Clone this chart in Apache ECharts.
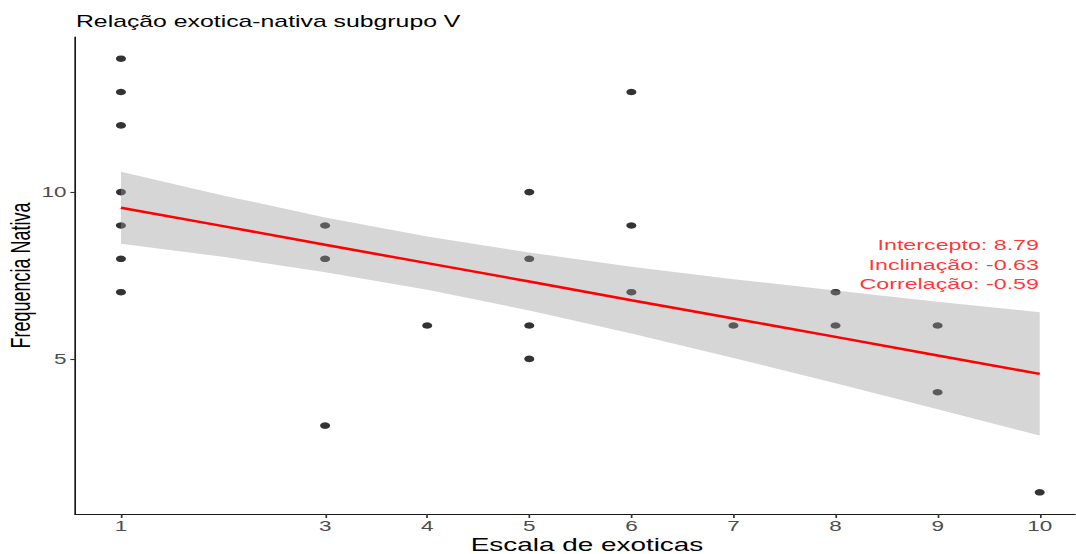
<!DOCTYPE html>
<html>
<head>
<meta charset="utf-8">
<script src="https://cdn.jsdelivr.net/npm/echarts@6/dist/echarts.min.js"></script>
<style>
  html, body { margin: 0; padding: 0; background: #ffffff; overflow: hidden; }
  #chart { width: 694.19px; height: 554px; transform: scaleX(1.55); transform-origin: 0 0; }
</style>
</head>
<body>
<div id="chart"></div>
<script>
// ---- data ----
const chartTitle = 'Relação exotica-nativa subgrupo V';
const xName = 'Escala de exoticas';
const yName = 'Frequencia Nativa';
const pointX = [1, 1, 1, 1, 1, 1, 1, 3, 3, 3, 4, 5, 5, 5, 5, 6, 6, 6, 7, 8, 8, 9, 9, 10];
const pointY = [14, 13, 12, 10, 9, 8, 7, 9, 8, 3, 6, 10, 8, 6, 5, 13, 9, 7, 6, 7, 6, 6, 4, 1];
const fitX = [1, 2, 3, 4, 5, 6, 7, 8, 9, 10];
const fitY = [9.53, 8.98, 8.42, 7.87, 7.32, 6.76, 6.21, 5.66, 5.10, 4.55];
const bandUpper = [10.61, 9.90, 9.24, 8.67, 8.19, 7.76, 7.39, 7.05, 6.71, 6.40];
const bandLower = [8.45, 8.06, 7.60, 7.07, 6.45, 5.76, 5.03, 4.27, 3.49, 2.70];
const xTicks = [1, 3, 4, 5, 6, 7, 8, 9, 10];
const yTicks = [5, 10];
const annoLabels = ['Intercepto: 8.79', 'Inclinação: -0.63', 'Correlação: -0.59'];
const annoX = 10;
const annoY = [8.44, 7.84, 7.25];

// ---- chart ----
const FONT = 'Liberation Sans, Arial, Helvetica, sans-serif';
const chart = echarts.init(document.getElementById('chart'), null, { renderer: 'svg' });

const option = {
  animation: false,
  backgroundColor: '#ffffff',
  title: {
    text: chartTitle,
    left: 49,
    top: 13,
    padding: 0,
    textStyle: { fontFamily: FONT, fontSize: 16, fontWeight: 'normal', color: '#000000' }
  },
  grid: { left: 48.4, right: -15, top: 37, bottom: 40, containLabel: false, outerBoundsMode: 'none' },
  xAxis: {
    type: 'value',
    min: 0.55,
    max: 10.58,
    name: xName,
    nameLocation: 'middle',
    nameGap: 22,
    nameMoveOverlap: false,
    nameTextStyle: { fontFamily: FONT, fontSize: 18, color: '#000000' },
    axisLine: { show: true, onZero: false, lineStyle: { color: '#1a1a1a', width: 1.1 } },
    axisTick: { show: true, length: 4, customValues: xTicks, lineStyle: { color: '#333333', width: 1.1 } },
    axisLabel: { customValues: xTicks, fontFamily: FONT, fontSize: 14.5, color: '#4d4d4d', margin: 5 },
    splitLine: { show: false }
  },
  yAxis: {
    type: 'value',
    min: 0.35,
    max: 14.65,
    name: yName,
    nameLocation: 'middle',
    nameGap: 26,
    nameMoveOverlap: false,
    nameRotate: 90,
    nameTextStyle: { fontFamily: FONT, fontSize: 18, color: '#000000' },
    axisLine: { show: true, onZero: false, lineStyle: { color: '#1a1a1a', width: 1.1 } },
    axisTick: { show: true, length: 3, customValues: yTicks, lineStyle: { color: '#333333', width: 1.1 } },
    axisLabel: { customValues: yTicks, fontFamily: FONT, fontSize: 14.5, color: '#4d4d4d', margin: 5.5 },
    splitLine: { show: false }
  },
  series: [
    {
      type: 'scatter',
      z: 2,
      symbol: 'circle',
      symbolSize: 6.5,
      itemStyle: { color: '#000000' },
      data: pointX.map((x, i) => [x, pointY[i]])
    },
    {
      type: 'custom',
      z: 3,
      silent: true,
      coordinateSystem: 'cartesian2d',
      data: [[fitX[0], fitY[0]]],
      renderItem: function (params, api) {
        const pts = [];
        for (let i = 0; i < fitX.length; i++) pts.push(api.coord([fitX[i], bandUpper[i]]));
        for (let i = fitX.length - 1; i >= 0; i--) pts.push(api.coord([fitX[i], bandLower[i]]));
        return { type: 'polygon', shape: { points: pts }, style: { fill: 'rgba(153,153,153,0.4)' } };
      }
    },
    {
      type: 'line',
      z: 4,
      symbol: 'none',
      lineStyle: { color: '#ff0000', width: 2.5 },
      data: fitX.map((x, i) => [x, fitY[i]])
    },
    {
      type: 'scatter',
      z: 5,
      silent: true,
      symbolSize: 1,
      itemStyle: { color: 'rgba(0,0,0,0)' },
      label: {
        show: true,
        position: 'left',
        distance: 0,
        fontFamily: FONT,
        fontSize: 15,
        color: '#ff0000',
        formatter: function (p) { return p.data[2]; }
      },
      data: annoLabels.map((t, i) => [annoX, annoY[i], t])
    }
  ]
};
chart.setOption(option);
</script>
</body>
</html>
